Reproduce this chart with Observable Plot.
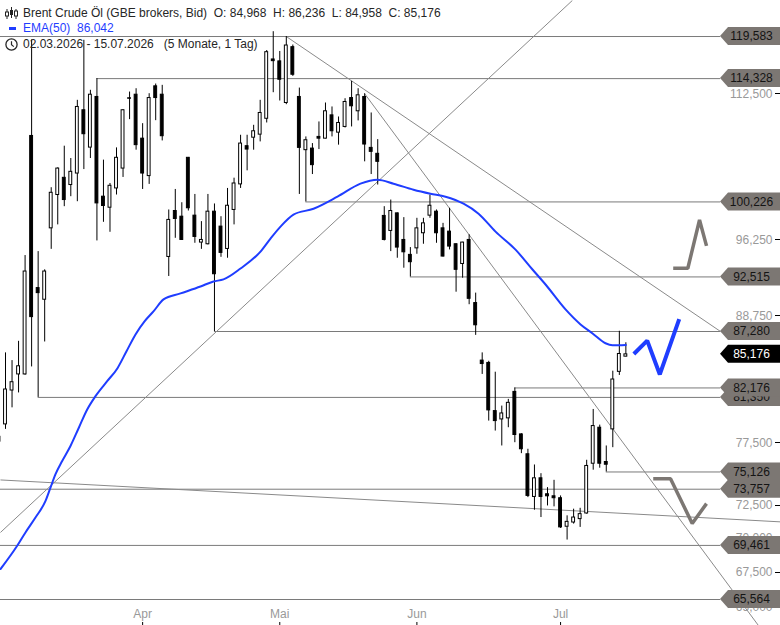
<!DOCTYPE html>
<html>
<head>
<meta charset="utf-8">
<script src="https://cdn.jsdelivr.net/npm/d3@7"></script>
<script src="https://cdn.jsdelivr.net/npm/@observablehq/plot@0.6"></script>
<style>
  body { margin: 0; background: #fff; }
  #wrap { position: relative; width: 780px; height: 625px; overflow: hidden; font-family: "Liberation Sans", Arial, sans-serif; }
  #legend { position: absolute; left: 0; top: 0; font-size: 12px; color: #262626; pointer-events: none; }
  .row { position: absolute; left: 0; white-space: pre; height: 16px; line-height: 16px; }
  .row svg { position: absolute; left: 5px; top: 2px; }
  .row span.t { position: absolute; left: 23px; top: 0; }
</style>
</head>
<body>
<div id="wrap">
  <div id="chart"></div>
  <div id="legend">
    <div class="row" style="top:5px;width:600px">
      <svg width="13" height="13" viewBox="0 0 13 13">
        <line x1="2" y1="2" x2="2" y2="12" stroke="#222"/><rect x="0.5" y="5" width="3" height="4" fill="#fff" stroke="#222"/>
        <line x1="6.5" y1="0" x2="6.5" y2="11" stroke="#222"/><rect x="5" y="3" width="3" height="5" fill="#222"/>
        <line x1="11" y1="2" x2="11" y2="12" stroke="#222"/><rect x="9.5" y="4" width="3" height="5" fill="#fff" stroke="#222"/>
      </svg>
      <span class="t" id="row1"></span>
    </div>
    <div class="row" style="top:20px;width:200px">
      <svg width="13" height="13" viewBox="0 0 13 13"><rect x="4" y="5" width="7" height="3" fill="#1f3dff"/></svg>
      <span class="t" id="row2" style="color:#1f3dff"></span>
    </div>
    <div class="row" style="top:36px;width:400px">
      <svg width="13" height="13" viewBox="0 0 13 13">
        <circle cx="6.5" cy="6.5" r="5.6" fill="none" stroke="#262626" stroke-width="1.3"/>
        <path d="M6.5 3.2V6.8L8.8 8.6" fill="none" stroke="#262626" stroke-width="1.2"/>
      </svg>
      <span class="t" id="row3"></span>
    </div>
  </div>
</div>
<script>
// ---------- data ----------
const seriesName = "Brent Crude Öl (GBE brokers, Bid)";
const dateRange = "02.03.2026 - 15.07.2026";
const periodText = "(5 Monate, 1 Tag)";
const emaName = "EMA(50)";

// candle index (trading day, 0 = 03.03.2026)
const dayIdx = [-1,0,1,2,3,4,5,6,7,8,9,10,11,12,13,14,15,16,17,18,19,20,21,22,23,24,25,26,27,28,29,30,31,32,33,34,35,36,37,38,39,40,41,42,43,44,45,46,47,48,49,50,51,52,53,54,55,56,57,58,59,60,61,62,63,64,65,66,67,68,69,70,71,72,73,74,75,76,77,78,79,80,81,82,83,84,85,86,87,88,89,90,91,92,93,94,95];
const open  = [78.0,79.04,81.95,83.37,83.37,107.54,91.42,90.29,97.44,100.97,102.84,102.05,103.31,110.53,106.21,112.11,100.79,99.61,101.68,103.86,111.95,112.38,107.23,103.03,113.39,112.38,94.51,99.26,98.66,105.06,98.77,95.97,95.80,99.19,97.62,95.32,99.37,102.12,106.37,107.34,107.69,109.53,116.69,116.45,111.39,118.23,112.11,105.92,106.10,107.43,107.23,109.93,107.92,108.58,111.98,110.41,112.11,106.18,105.51,98.74,97.17,99.01,96.24,94.72,95.38,96.93,98.77,99.19,97.44,97.10,95.80,93.80,96.24,89.97,84.61,84.40,80.17,79.46,79.55,81.83,78.20,76.56,73.15,74.62,73.36,73.20,73.05,70.86,71.18,71.44,71.87,75.79,78.76,75.93,78.62,83.60,84.968];
const high  = [78.5,85.31,84.61,86.37,94.65,119.15,95.05,93.22,101.76,103.94,106.37,104.98,111.71,119.10,112.91,114.328,104.80,102.22,106.18,110.60,112.70,113.10,108.96,112.50,113.67,113.51,99.37,101.57,100.14,105.10,101.03,98.14,101.03,100.01,98.66,101.68,102.80,107.62,107.62,108.77,111.71,117.81,120.20,117.69,119.583,118.50,113.18,107.43,106.67,109.16,111.39,110.92,109.74,111.90,113.99,113.10,112.50,110.21,107.12,99.72,100.43,99.05,98.56,95.46,98.49,98.49,100.97,99.37,97.96,99.55,95.85,96.00,96.77,90.93,85.31,84.55,83.57,80.60,81.18,82.176,78.26,76.97,75.69,74.99,73.88,74.46,73.23,71.69,72.20,72.27,76.07,80.31,78.98,77.24,83.66,87.30,86.236];
const low   = [77.2,78.62,80.45,81.74,83.30,84.04,81.35,86.31,95.28,97.80,99.72,100.79,100.25,103.75,104.98,96.14,98.07,97.03,100.97,102.88,109.43,105.92,101.57,102.12,109.31,106.97,92.56,96.41,96.20,99.26,95.90,95.28,95.73,87.28,94.47,94.38,97.80,101.68,103.61,105.92,106.86,109.04,112.62,111.63,111.19,114.60,101.03,100.226,103.20,105.99,107.20,107.43,106.49,108.46,108.58,109.28,104.61,103.20,102.05,96.14,95.05,94.38,93.38,92.515,94.78,95.80,98.49,95.90,94.50,95.22,91.02,92.39,89.81,86.92,83.37,79.32,78.48,77.24,78.76,77.51,76.61,73.10,72.12,71.56,72.45,72.38,70.73,69.86,71.06,70.81,71.82,75.27,75.43,75.126,77.10,83.28,84.958];
const close = [77.6,82.04,82.68,84.10,93.05,88.63,90.93,93.05,101.21,103.86,100.43,103.50,110.92,107.74,112.38,100.07,99.79,101.97,105.06,110.53,111.90,106.49,103.31,111.98,111.98,107.51,98.32,98.42,96.24,99.55,96.55,96.24,99.19,92.78,94.92,99.82,102.22,106.67,105.99,108.08,110.21,117.60,116.48,114.19,118.44,114.80,106.18,107.05,104.24,107.23,110.41,108.08,109.04,111.51,111.00,112.31,106.56,105.73,104.61,96.24,99.26,95.46,94.98,93.98,97.44,97.96,99.82,96.93,94.55,95.56,93.22,95.97,90.38,87.86,84.30,80.23,79.32,79.97,80.88,78.15,76.97,73.23,74.62,73.15,73.20,73.05,70.81,71.23,71.56,71.82,75.61,78.90,75.79,75.71,82.92,85.21,85.176];

// EMA(50)
const emaIdx = [-0.77,1.79,3.06,4.59,6.13,6.89,7.66,8.68,9.95,11.23,12.51,13.78,15.57,17.15,18.53,19.91,21.29,22.66,24.2,26.8,29.86,31.85,33.38,35.99,39.05,40.58,42.11,44.1,47.17,50.84,54.36,56.97,59.42,62.48,65.08,67.38,70.14,72.44,75.04,78.1,80.7,82.7,85.76,88.06,89.9,91.88,92.96,95];
const emaVal = [67.73,69.44,70.43,71.56,72.84,73.88,74.95,76.01,77.24,78.76,80.31,81.46,82.77,83.93,85.46,87.01,88.23,89.17,90.32,90.90,91.58,92.07,92.27,93.35,95.05,96.38,97.62,98.88,99.50,100.79,102.20,102.63,102.20,101.54,101.11,100.79,100.04,98.98,97.10,95.25,93.25,91.77,89.36,87.94,87.10,86.19,86.01,86.042];

// horizontal support / resistance levels and the candle they start from
const levelVal  = [119.583,114.328,100.226,92.515,87.28,81.35,82.176,75.126,73.757,69.461,65.564];
const levelFrom = [-0.77,14,46,62,32,5,78,92,-0.77,-0.77,-0.77];

// trend lines (index, price) pairs
const trendX1 = [43, 55, -0.77, -0.77];
const trendY1 = [119.583, 112.5, 70.43, 74.49];
const trendX2 = [109.5, 115.3, 86.8, 118.68];
const trendY2 = [87.28, 63.77, 124.27, 71.23];

// expected-path sketches (index, price)
const sketchUpX = [102.25,104.49,106.28,107.35];
const sketchUpY = [93.38,93.38,98.31,95.63];
const sketchBlueX = [96.22,98.27,100.2,103.17];
const sketchBlueY = [85.21,86.43,83.37,88.44];
const sketchDownX = [99.19,101.84,105.16,107.35];
const sketchDownY = [74.59,74.59,71.11,72.63];

// axes
const yTicks = [112.5,96.25,88.75,77.5,72.5,70,67.5,65];
const monthIdx = [21,42,63,85];
const monthLbl = ["Apr","Mai","Jun","Jul"];

// ---------- build ----------
const de = d3.formatLocale({decimal: ",", thousands: ".", grouping: [3], currency: ["", ""]});
const f3 = de.format(".3f");
const FONT = "'Liberation Sans', Arial, sans-serif";

const candles = dayIdx.map((i, k) => ({i, o: open[k], h: high[k], l: low[k], c: close[k]}));
const ema = emaIdx.map((i, k) => ({i, v: emaVal[k]}));
const levels = levelVal.map((v, k) => ({v, from: levelFrom[k]}));
const trends = trendX1.map((x1, k) => ({x1, y1: trendY1[k], x2: trendX2[k], y2: trendY2[k]}));
const sketches = [
  ...sketchUpX.map((x, k) => ({g: "up", x, y: sketchUpY[k]})),
  ...sketchDownX.map((x, k) => ({g: "down", x, y: sketchDownY[k]}))
];
const sketchBlue = sketchBlueX.map((x, k) => ({x, y: sketchBlueY[k]}));
const last = candles[candles.length - 1];
const monthMap = new Map(monthIdx.map((d, k) => [d, monthLbl[k]]));

document.getElementById("row1").textContent =
  `${seriesName}  O: ${f3(last.o)}  H: ${f3(last.h)}  L: ${f3(last.l)}  C: ${f3(last.c)}`;
document.getElementById("row2").textContent = `${emaName}  ${f3(emaVal[emaVal.length - 1])}`;
document.getElementById("row3").textContent = `${dateRange}   ${periodText}`;

const labelEdge = 109.5;   // index where the price boxes begin
const boxes = [...levels.map(d => ({v: d.v, cur: false})), {v: last.c, cur: true}];

// small tick dashes of the right-hand price axis
function axisDashes(index, scales, values, dims) {
  const W = dims.width;
  const g = d3.create("svg:g").attr("stroke", "#000");
  for (const t of yTicks) {
    const y = Math.round(scales.y(t)) + 0.5;
    g.append("line").attr("x1", W - 5).attr("x2", W).attr("y1", y).attr("y2", y);
  }
  return g.node();
}

// pentagon label shape for one price level
const boxShape = b => (index, scales, values, dims) => {
  const W = dims.width, y = scales.y(b.v);
  return d3.create("svg:path")
    .attr("d", `M${W - 60},${y}L${W - 52},${y - 9}H${W}V${y + 9}H${W - 52}Z`)
    .attr("fill", b.cur ? "#000" : "#7c7773")
    .node();
};

const boxMarks = boxes.flatMap(b => [
  boxShape(b),
  Plot.text([b], {y: "v", text: d => f3(d.v), frameAnchor: "right", dx: -29, textAnchor: "middle",
    fill: b.cur ? "#fff" : "#141414", fontSize: 12})
]);

const chart = Plot.plot({
  width: 780,
  height: 625,
  marginTop: 0, marginBottom: 0, marginLeft: 0, marginRight: 0,
  style: {fontFamily: FONT, fontSize: "12px", background: "#fff", overflow: "visible"},
  x: {type: "linear", domain: [-0.766, 118.68]},
  y: {type: "log", domain: [63.77, 124.27]},
  marks: [
    Plot.ruleY(levels, {y: "v", x1: "from", x2: labelEdge, stroke: "#7a7a7a", strokeWidth: 1}),
    Plot.link(trends, {x1: "x1", y1: "y1", x2: "x2", y2: "y2", stroke: "#8a8a8a", strokeWidth: 1, clip: true}),
    Plot.ruleX(candles, {x: "i", y1: "l", y2: "h", stroke: "#000", strokeWidth: 1, clip: true}),
    Plot.rect(candles, {
      x1: d => d.i - 0.22, x2: d => d.i + 0.22,
      y1: "o", y2: "c",
      fill: d => d.c >= d.o ? "#fff" : "#000",
      stroke: "#000", strokeWidth: 1, clip: true
    }),
    Plot.line(ema, {x: "i", y: "v", stroke: "#1f3dff", strokeWidth: 2, curve: "monotone-x"}),
    Plot.line(sketches, {x: "x", y: "y", z: "g", stroke: "#7c7773", strokeWidth: 3.5, strokeLinejoin: "miter", strokeLinecap: "butt"}),
    Plot.line(sketchBlue, {x: "x", y: "y", stroke: "#1f3dff", strokeWidth: 4, strokeLinejoin: "miter", strokeLinecap: "butt"}),
    axisDashes,
    Plot.text(yTicks, {y: d => d, text: d => f3(d), frameAnchor: "right", dx: -8, textAnchor: "end", fill: "#999", fontSize: 12}),
    Plot.axisX({anchor: "top", dy: 625, ticks: monthIdx, tickFormat: d => monthMap.get(d), tickSize: 4, tickPadding: 4,
      stroke: "#000", fill: "#999", fontSize: 12, label: null}),
    ...boxMarks
  ]
});
document.getElementById("chart").appendChild(chart);
</script>
</body>
</html>
